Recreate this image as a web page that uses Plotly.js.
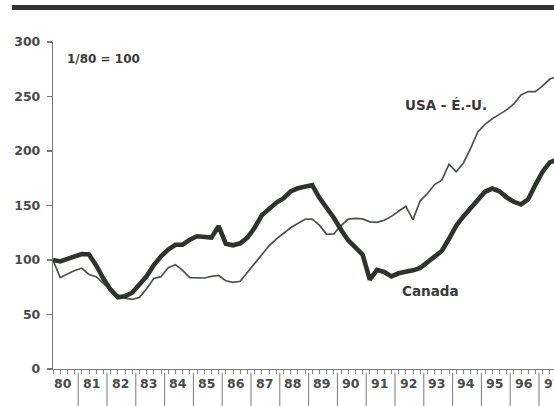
<!DOCTYPE html>
<html>
<head>
<meta charset="utf-8">
<script src="https://cdn.plot.ly/plotly-3.0.1.min.js"></script>
<style>
html,body{margin:0;padding:0;background:#fff;}
#chart{width:554px;height:406px;}
</style>
</head>
<body>
<div id="chart"></div>
<script>
// Quarterly index, 1/80 = 100 (points plotted at quarter midpoints, 1980Q1 .. 1997Q3)
var startYear = 1980;
var yearLabels = ['80','81','82','83','84','85','86','87','88','89','90','91','92','93','94','95','96','97'];
var canada = [100,98.7,101,103.5,105.5,105,95,83,72.8,65.7,66.8,70,77,85,95.3,103.4,
  109.5,114,114,118.6,121.8,121.5,120.5,131,115,113.5,115.3,120.5,129.6,141,147.3,152.5,
  156.5,163,165.8,167.6,168.8,157,148.4,138.8,127.8,118,111.6,104.9,82,91,89,85,
  87.8,89,90.5,92.8,98.3,103,108.3,119.5,131.4,140,148,155.7,162.6,165.5,163,157.5,
  153.4,151,155.7,169,181,189.6,192];
var usa = [100,83.8,87.2,90.4,92.5,86.7,84.7,78.8,72.5,67.8,65,63.8,65.7,73.7,83,84.7,
  93,95.7,90.5,83.8,83.8,83.5,85,85.8,81,79.5,80.5,88.8,96.2,104.4,113,119.2,
  124.7,129.6,133.5,137.4,137.5,132,123.5,124,131.6,137.5,138.1,137.7,135,134.6,136.4,140,
  144.7,149.3,137,154.3,161,169.2,173.3,187.9,181,189,202.4,217.5,224.4,229.6,233.6,237.7,
  243.2,251.4,254.5,254.5,259.7,266,268.4];

var tq = canada.map(function(_, i){ return startYear + 0.125 + i*0.25; });
var years = yearLabels.map(function(_, i){ return startYear + i; });

var xMin = startYear + 0.125;
var xMax = xMin + 501/28.8;
function px(x){ return (x - xMin)/(xMax - xMin); }

var tickFont = {family:'DejaVu Sans, sans-serif', size:12.5, color:'#4a4a4a', weight:'bold'};

var traces = [
  {x: tq, y: usa, type:'scatter', mode:'lines', line:{color:'#4d524d', width:1.7}, hoverinfo:'skip'},
  {x: tq, y: canada, type:'scatter', mode:'lines', line:{color:'#2c342c', width:4.6}, hoverinfo:'skip'}
];

var shapes = [
  {type:'line', xref:'paper', yref:'paper', x0:-0.082, x1:1.02, y0:1.1055, y1:1.1055,
   line:{color:'#333', width:5}}
];
years.slice(1).forEach(function(y){
  shapes.push({type:'line', xref:'paper', yref:'paper', x0:px(y), x1:px(y), y0:-0.012, y1:-0.12,
    line:{color:'#777', width:1}});
});

var annotations = yearLabels.map(function(lab, i){
  return {x: px(years[i] + 0.09), y: -0.045, xref:'paper', yref:'paper', text: lab,
    showarrow:false, xanchor:'left', yanchor:'middle', font:tickFont};
});
annotations.push({x:0.024, y:0.948, xref:'paper', yref:'paper', text:'1/80 = 100', showarrow:false,
  xanchor:'left', yanchor:'middle', font:{family:'DejaVu Sans, sans-serif', size:12, color:'#3a3a3a', weight:'bold'}});
annotations.push({x:0.6986, y:0.807, xref:'paper', yref:'paper', text:'USA - É.-U.', showarrow:false,
  xanchor:'left', yanchor:'middle', font:{family:'DejaVu Sans, sans-serif', size:13.5, color:'#3a3a3a', weight:'bold'}});
annotations.push({x:0.6926, y:0.2385, xref:'paper', yref:'paper', text:'Canada', showarrow:false,
  xanchor:'left', yanchor:'middle', font:{family:'DejaVu Sans, sans-serif', size:13.5, color:'#3a3a3a', weight:'bold'}});

var layout = {
  width:554, height:406,
  margin:{l:53, r:0, t:42, b:37, pad:0},
  paper_bgcolor:'#fff', plot_bgcolor:'#fff',
  showlegend:false,
  xaxis:{range:[xMin, xMax], showgrid:false, zeroline:false, showline:true, linecolor:'#777', linewidth:1.2,
    tickmode:'array', tickvals: tq, ticks:'outside', ticklen:4, tickwidth:1, tickcolor:'#888',
    showticklabels:false, fixedrange:true},
  yaxis:{range:[0,300], showgrid:false, zeroline:false, showline:true, linecolor:'#777', linewidth:1.2,
    tickmode:'array', tickvals:[0,50,100,150,200,250,300], ticks:'outside', ticklen:5, tickwidth:1.2,
    tickcolor:'#777', tickfont:tickFont, ticklabelstandoff:4, fixedrange:true},
  shapes: shapes,
  annotations: annotations
};

Plotly.newPlot('chart', traces, layout, {staticPlot:true, displayModeBar:false});
</script>
</body>
</html>
